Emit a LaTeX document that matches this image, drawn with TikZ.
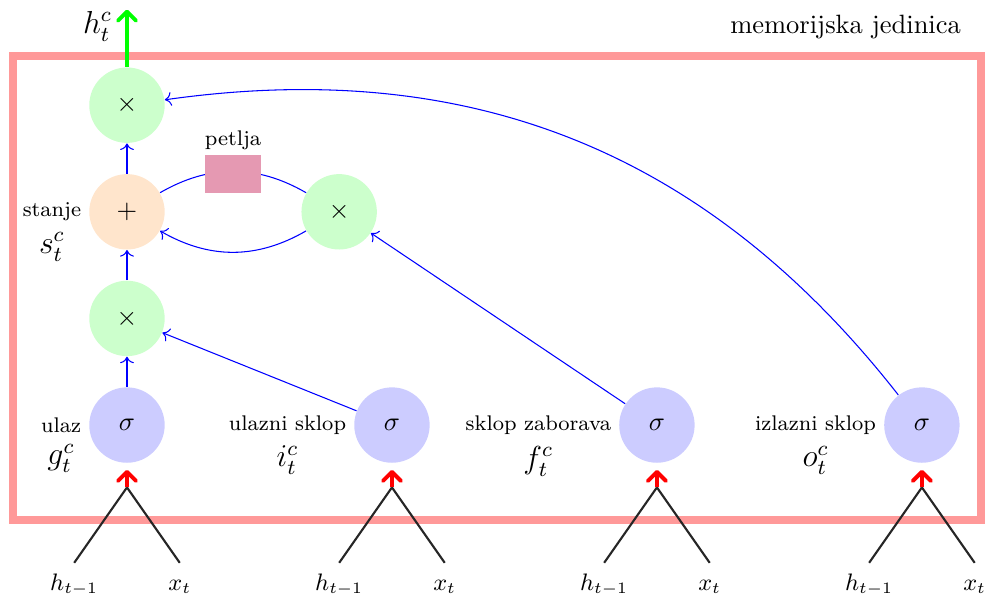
\documentclass[tikz,border=0pt]{standalone}
\usepackage{amsmath}
\usetikzlibrary{arrows.meta, positioning, calc}

\begin{document}
\begin{tikzpicture}[
    gate/.style={circle, fill=blue!20, minimum size=1cm, inner sep=0pt},
    mult/.style={circle, fill=green!20, minimum size=1cm, inner sep=0pt},
    summ/.style={circle, fill=orange!20, minimum size=1cm, inner sep=0pt},
    delay/.style={fill=purple!40, minimum width=0.75cm, minimum height=0.5cm, inner sep=0pt},
    lbl/.style={font=\footnotesize, inner xsep=2.7pt, inner ysep=1pt},
    sym/.style={font=\large, inner sep=1pt},
    inlbl/.style={font=\small, anchor=north, text height=1.6ex, text depth=0.4ex},
    conn/.style={->, blue},
    feed/.style={-{Straight Barb[length=1.2mm, width=2.4mm, round]}, red, line width=1.5pt, shorten >=2.5pt},
    outarrow/.style={-{Straight Barb[length=1.2mm, width=2.4mm, round]}, green, line width=1.5pt},
    split/.style={thick, black!85}
  ]
  \useasboundingbox (-1.684,-2.281) rectangle (11.419,5.637);
  \draw[red!40, line width=3pt] (-1.508,-1.264) rectangle (11.326,4.894);
  \node (unit) at (9.53,5.28) {memorijska jedinica};

  % sklopovi
  \node[gate] (sigG) at (0,0) {$\sigma$};
  \node[gate, right=2.5cm of sigG] (sigI) {$\sigma$};
  \node[gate, right=2.5cm of sigI] (sigF) {$\sigma$};
  \node[gate, right=2.5cm of sigF] (sigO) {$\sigma$};
  \node[lbl, left=0pt of sigG] (lblG) {ulaz};
  \node[sym, below=2pt of lblG] (symG) {$g_t^c$};
  \node[lbl, left=0pt of sigI] (lblI) {ulazni sklop};
  \node[sym, below=2pt of lblI] (symI) {$i_t^c$};
  \node[lbl, left=0pt of sigF] (lblF) {sklop zaborava};
  \node[sym, below=2pt of lblF] (symF) {$f_t^c$};
  \node[lbl, left=0pt of sigO] (lblO) {izlazni sklop};
  \node[sym, below=2pt of lblO] (symO) {$o_t^c$};

  % stanje
  \node[mult, above=0.4cm of sigG] (mulIn) {$\times$};
  \node[summ, above=0.4cm of mulIn] (state) {$+$};
  \node[mult, above=0.4cm of state] (mulOut) {$\times$};
  \node[mult, right=1.8cm of state] (mulF) {$\times$};
  \node[lbl, left=0pt of state] (lblS) {stanje};
  \node[sym, below=2pt of lblS] (symS) {$s_t^c$};

  \draw[conn] (sigG) -- (mulIn);
  \draw[conn] (mulIn) -- (state);
  \draw[conn] (state) -- (mulOut);
  \draw[conn] (sigI) -- (mulIn);
  \draw[conn] (sigF) -- (mulF);
  \draw[conn] (sigO) to[bend right=30] (mulOut);
  \draw[conn, -] (state) to[bend left=30] (mulF);
  \draw[conn] (mulF) to[bend left=30] (state);
  \node[delay] (loop) at ($(state)!0.5!(mulF)+(0,0.5)$) {};
  \node[lbl, above=0.5pt of loop] (lblLoop) {petlja};

  % izlaz
  \coordinate (out) at ($(mulOut.north)+(0,0.76)$);
  \draw[outarrow] (mulOut) -- (out);
  \node[sym] (hOut) at ($(out)+(-0.39,-0.22)$) {$h_t^c$};

  % ulazi
  \coordinate (apexG) at ($(sigG.south)+(0,-0.32)$);
  \node[inlbl] (hG) at ($(apexG)+(-0.7,-1)$) {$h_{t-1}$};
  \node[inlbl] (xG) at ($(apexG)+(0.7,-1)$) {$x_t$};
  \draw[split] (apexG) -- (hG.north);
  \draw[split] (apexG) -- (xG.north);
  \draw[feed] (apexG) -- (sigG);

  \coordinate (apexI) at ($(sigI.south)+(0,-0.32)$);
  \node[inlbl] (hI) at ($(apexI)+(-0.7,-1)$) {$h_{t-1}$};
  \node[inlbl] (xI) at ($(apexI)+(0.7,-1)$) {$x_t$};
  \draw[split] (apexI) -- (hI.north);
  \draw[split] (apexI) -- (xI.north);
  \draw[feed] (apexI) -- (sigI);

  \coordinate (apexF) at ($(sigF.south)+(0,-0.32)$);
  \node[inlbl] (hF) at ($(apexF)+(-0.7,-1)$) {$h_{t-1}$};
  \node[inlbl] (xF) at ($(apexF)+(0.7,-1)$) {$x_t$};
  \draw[split] (apexF) -- (hF.north);
  \draw[split] (apexF) -- (xF.north);
  \draw[feed] (apexF) -- (sigF);

  \coordinate (apexO) at ($(sigO.south)+(0,-0.32)$);
  \node[inlbl] (hO) at ($(apexO)+(-0.7,-1)$) {$h_{t-1}$};
  \node[inlbl] (xO) at ($(apexO)+(0.7,-1)$) {$x_t$};
  \draw[split] (apexO) -- (hO.north);
  \draw[split] (apexO) -- (xO.north);
  \draw[feed] (apexO) -- (sigO);
\end{tikzpicture}
\end{document}
